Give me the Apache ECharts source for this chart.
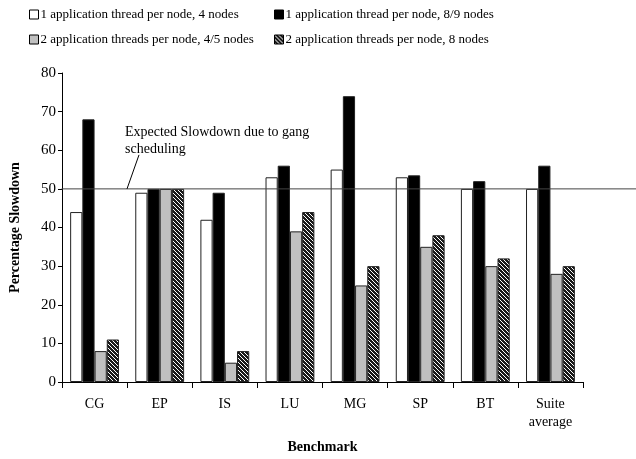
<!DOCTYPE html>
<html>
<head>
<meta charset="utf-8">
<script src="https://cdn.jsdelivr.net/npm/echarts@6/dist/echarts.min.js"></script>
<style>
  html, body { margin: 0; padding: 0; background: #fff; }
  #chart { width: 636px; height: 459px; }
</style>
</head>
<body>
<div id="chart"></div>
<script>
// Benchmarks and percentage slowdown per configuration
const categories = ['CG', 'EP', 'IS', 'LU', 'MG', 'SP', 'BT', 'Suite\naverage'];
const seriesNames = [
  '1 application thread per node, 4 nodes',
  '1 application thread per node, 8/9 nodes',
  '2 application threads per node, 4/5 nodes',
  '2 application threads per node, 8 nodes'
];
const oneThread4 = [44, 49, 42, 53, 55, 53, 50, 50];
const oneThread89 = [68, 50, 49, 56, 74, 53.5, 52, 56];
const twoThreads45 = [8, 50, 5, 39, 25, 35, 30, 28];
const twoThreads8 = [11, 50, 8, 44, 30, 38, 32, 30];
const expectedSlowdown = 50;
const yTicks = { min: 0, max: 80, interval: 10 };

const FONT = '"Liberation Serif", "DejaVu Serif", serif';

// dense diagonal hatch fill
function hatchPattern() {
  const c = document.createElement('canvas');
  c.width = 4; c.height = 4;
  const g = c.getContext('2d');
  g.fillStyle = '#1a1a1a';
  g.fillRect(0, 0, 4, 4);
  g.fillStyle = '#ffffff';
  for (let i = 0; i < 4; i++) {
    g.fillRect(i, i, 1, 1);
  }
  return { image: c, repeat: 'repeat' };
}

const fills = ['#ffffff', '#000000', '#c0c0c0', hatchPattern()];
const values = [oneThread4, oneThread89, twoThreads45, twoThreads8];

const chart = echarts.init(document.getElementById('chart'), null, { renderer: 'canvas' });

const legendPos = [
  { left: 29, top: 8 }, { left: 274, top: 8 },
  { left: 29, top: 33 }, { left: 274, top: 33 }
];

const option = {
  animation: false,
  backgroundColor: '#ffffff',
  textStyle: { fontFamily: FONT },
  legend: seriesNames.map((n, i) => ({
    data: [n],
    left: legendPos[i].left,
    top: legendPos[i].top,
    icon: 'rect',
    itemWidth: 9,
    itemHeight: 9,
    padding: 0,
    selectedMode: false,
    itemStyle: { borderColor: '#000', borderWidth: 1 },
    textStyle: { fontFamily: FONT, fontSize: 13, color: '#000', padding: [0, 0, 0, -3] }
  })),
  grid: { left: 60, right: 53, top: 73, bottom: 72, containLabel: false },
  xAxis: {
    type: 'category',
    data: categories,
    name: 'Benchmark',
    nameLocation: 'middle',
    nameGap: 58,
    nameTextStyle: { fontFamily: FONT, fontSize: 14, fontWeight: 'bold', color: '#000' },
    axisLine: { lineStyle: { color: '#000', width: 1 } },
    axisTick: { show: true, length: 6, lineStyle: { color: '#000' } },
    axisLabel: { fontFamily: FONT, fontSize: 14, color: '#000', margin: 13, lineHeight: 18, interval: 0 }
  },
  yAxis: {
    type: 'value',
    min: yTicks.min,
    max: yTicks.max,
    interval: yTicks.interval,
    name: 'Percentage Slowdown',
    nameLocation: 'middle',
    nameGap: 40,
    nameTextStyle: { fontFamily: FONT, fontSize: 14, fontWeight: 'bold', color: '#000' },
    axisLine: { show: true, lineStyle: { color: '#000', width: 1 } },
    axisTick: { show: true, length: 4, lineStyle: { color: '#000' } },
    axisLabel: { fontFamily: FONT, fontSize: 15, color: '#000', margin: 6 },
    splitLine: { show: false }
  },
  series: seriesNames.map((n, i) => ({
    name: n,
    type: 'bar',
    data: values[i],
    barGap: '0%',
    barCategoryGap: '25%',
    itemStyle: { color: fills[i], borderColor: '#222', borderWidth: 1 }
  }))
};

chart.setOption(option);

// expected-slowdown reference line with its annotation
function drawReference() {
  const y = chart.convertToPixel({ yAxisIndex: 0 }, expectedSlowdown);
  const x0 = chart.convertToPixel({ xAxisIndex: 0 }, 0) - 33;
  chart.setOption({
    graphic: [
      {
        type: 'line', z: 10,
        shape: { x1: x0, y1: y, x2: 636, y2: y },
        style: { stroke: '#444', lineWidth: 1 }
      },
      {
        type: 'line', z: 10,
        shape: { x1: 127, y1: y, x2: 139, y2: y - 34 },
        style: { stroke: '#000', lineWidth: 1 }
      },
      {
        type: 'text', z: 10,
        left: 125, top: y - 65,
        style: {
          text: 'Expected Slowdown due to gang\nscheduling',
          font: '14px ' + FONT,
          fill: '#000',
          lineHeight: 17
        }
      }
    ]
  });
}
drawReference();
</script>
</body>
</html>
